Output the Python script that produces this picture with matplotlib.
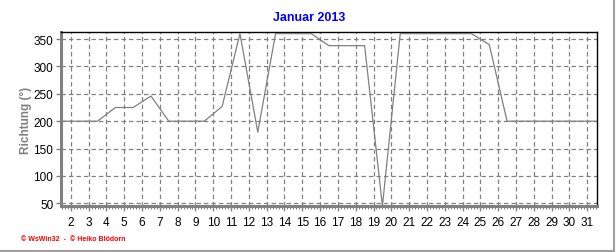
import numpy as np
import matplotlib
matplotlib.use('Agg')
import matplotlib.pyplot as plt
from matplotlib.lines import Line2D
from matplotlib.ticker import MultipleLocator

plt.rcParams['font.family'] = ['Liberation Sans', 'DejaVu Sans']

# ==============================
# Daten (Tagesmittel Windrichtung, Januar 2013)
# ==============================
tage = list(range(1, 32))
richtung = [200, 200, 200, 225, 225, 246, 200, 200, 200, 227,
            360, 180, 360, 360, 360, 338, 338, 338, 45, 360,
            360, 360, 360, 360, 340, 200, 200, 200, 200, 200,
            200]
x_labels = [str(t) for t in range(2, 32)]
y_ticks = [50, 100, 150, 200, 250, 300, 350]

# ==============================
# Figur
# ==============================
fig = plt.figure(figsize=(6.16, 2.53), dpi=100)
ax = fig.add_axes([61 / 616, 1 - 207 / 253, 536 / 616, 174 / 253])

x = [t + 0.5 for t in tage]  # Mittelwert jeweils um 12 Uhr
ax.plot(x, richtung, color='#808080', linewidth=0.9, zorder=3)

ax.set_xlim(1.45, 31.55)
ax.set_ylim(45, 363)

ax.set_xticks(range(2, 32))
ax.set_xticklabels(x_labels)
ax.xaxis.set_minor_locator(MultipleLocator(1 / 6))
ax.set_yticks(y_ticks)

ax.grid(True, which='major', color='#808080', linestyle=(0, (3.5, 2.5)), linewidth=0.9)
ax.tick_params(axis='both', which='major', labelsize=8.5, length=3.5, width=1,
               color='#808080', direction='out', pad=2)
ax.tick_params(axis='x', which='minor', length=2, width=0.8, color='#808080')
ax.tick_params(axis='x', pad=4)

for s in ['left', 'bottom']:
    ax.spines[s].set_color('#808080')
    ax.spines[s].set_linewidth(2.2)
for s in ['top', 'right']:
    ax.spines[s].set_color('black')
    ax.spines[s].set_linewidth(1)

ax.set_ylabel('Richtung (°)', color='#808080', fontsize=8.5, fontweight='bold', labelpad=1)

fig.text(309 / 616, 1 - 18 / 253, 'Januar 2013', color='#0000FF', fontsize=9,
         fontweight='bold', ha='center', va='center')
fig.text(21 / 616, 1 - 240 / 253, '© WsWin32  -  © Heiko Blödorn', color='#FF0000',
         fontsize=5, fontweight='bold', ha='left', va='center')

# grauer Rahmen rechts und unten
fig.add_artist(Line2D([0, 613.5 / 616], [1 - 252 / 253, 1 - 252 / 253],
                      color='#A0A0A0', linewidth=1.5, transform=fig.transFigure))
fig.add_artist(Line2D([613.5 / 616, 613.5 / 616], [1 - 252 / 253, 1],
                      color='#A0A0A0', linewidth=1.5, transform=fig.transFigure))

plt.savefig('out.png', dpi=100)
